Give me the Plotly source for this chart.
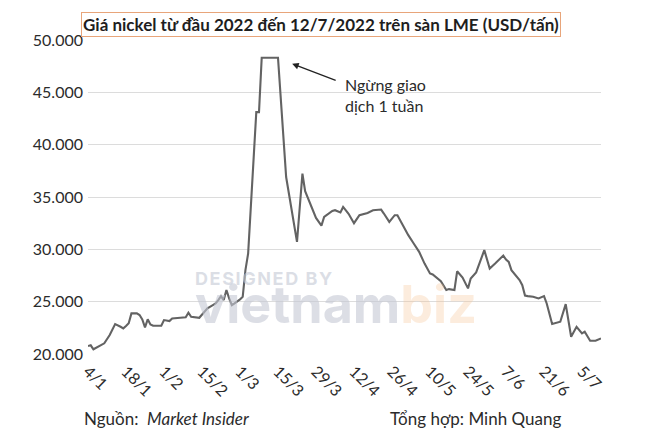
import plotly.graph_objects as go

# ---- data ----
dates = [
    "2022-01-04", "2022-01-05", "2022-01-06", "2022-01-08", "2022-01-10", "2022-01-12",
    "2022-01-14", "2022-01-16", "2022-01-17", "2022-01-18", "2022-01-19", "2022-01-20",
    "2022-01-22", "2022-01-23", "2022-01-24", "2022-01-25", "2022-01-26", "2022-01-27",
    "2022-01-28", "2022-01-31", "2022-02-01", "2022-02-03", "2022-02-04", "2022-02-07",
    "2022-02-09", "2022-02-10", "2022-02-11", "2022-02-14", "2022-02-15", "2022-02-17",
    "2022-02-19", "2022-02-20", "2022-02-21", "2022-02-22", "2022-02-23", "2022-02-24",
    "2022-02-25", "2022-02-26", "2022-02-27", "2022-02-28", "2022-03-01", "2022-03-02",
    "2022-03-03", "2022-03-04", "2022-03-07", "2022-03-08", "2022-03-09", "2022-03-15",
    "2022-03-18", "2022-03-22", "2022-03-24", "2022-03-25", "2022-03-27", "2022-03-29",
    "2022-03-31", "2022-04-01", "2022-04-04", "2022-04-05", "2022-04-07", "2022-04-08",
    "2022-04-10", "2022-04-12", "2022-04-14", "2022-04-17", "2022-04-19", "2022-04-22",
    "2022-04-23", "2022-04-25", "2022-04-27", "2022-04-28", "2022-04-30", "2022-05-02",
    "2022-05-04", "2022-05-05", "2022-05-06", "2022-05-08", "2022-05-10", "2022-05-11",
    "2022-05-14", "2022-05-16", "2022-05-17", "2022-05-19", "2022-05-20", "2022-05-22",
    "2022-05-24", "2022-05-25", "2022-05-27", "2022-05-30", "2022-06-01", "2022-06-03",
    "2022-06-06", "2022-06-07", "2022-06-08", "2022-06-09", "2022-06-12", "2022-06-13",
    "2022-06-14", "2022-06-15", "2022-06-17", "2022-06-19", "2022-06-21", "2022-06-22",
    "2022-06-24", "2022-06-27", "2022-06-29", "2022-07-01", "2022-07-03", "2022-07-05",
    "2022-07-06", "2022-07-08", "2022-07-10", "2022-07-12",
]
prices = [
    20760, 20830, 20450, 20750, 21020, 21810,
    22860, 22600, 22450, 22670, 22930, 23880,
    23880, 23720, 23310, 22550, 23310, 22830,
    22700, 22700, 23240, 23150, 23400, 23460,
    23500, 23940, 23560, 23460, 23790, 24360,
    24670, 24830, 25150, 25530, 25150, 26110,
    25310, 24670, 24830, 24990, 25210, 25470,
    28010, 29600, 43110, 43110, 48300, 48300,
    36910, 30710, 37230, 35550, 34300, 33000,
    32260, 33100, 33670, 33740, 33520, 34050,
    33400, 32500, 33260, 33480, 33740, 33800,
    33420, 32620, 33260, 33260, 32310, 31350,
    30560, 30200, 29760, 28640, 27700, 27600,
    26950, 26110, 26200, 26110, 27900, 27300,
    26270, 27210, 27800, 29920, 28160, 28640,
    29400, 29030, 28800, 28010, 27060, 26580,
    25580, 25530, 25470, 25310, 25530, 24830,
    22860, 23080, 24770, 21650, 22600, 21970,
    22130, 21270, 21270, 21490,
]

tick_dates = [
    "2022-01-04", "2022-01-18", "2022-02-01", "2022-02-15", "2022-03-01", "2022-03-15",
    "2022-03-29", "2022-04-12", "2022-04-26", "2022-05-10", "2022-05-24", "2022-06-07",
    "2022-06-21", "2022-07-05",
]
tick_labels = ["4/1", "18/1", "1/2", "15/2", "1/3", "15/3", "29/3", "12/4",
               "26/4", "10/5", "24/5", "7/6", "21/6", "5/7"]

title_text = "Giá nickel từ đầu 2022 đến 12/7/2022 trên sàn LME (USD/tấn)"
note_text = "Ngừng giao<br>dịch 1 tuần"
source_text = "Nguồn:  <i>Market Insider</i>"
author_text = "Tổng hợp: Minh Quang"
watermark_text = ("<span style='font-size:18px;letter-spacing:1.6px'><b>DESIGNED BY</b></span><br>"
                  "<span style='font-size:52px'><b>vietnam</b>"
                  "<span style='color:rgba(246,196,152,0.55)'><b>biz</b></span></span>")

FONT = "Lato, 'Open Sans', sans-serif"
TXT = "#2b2b2b"

fig = go.Figure()
fig.add_trace(go.Scatter(
    x=dates, y=prices, mode="lines",
    line=dict(color="#636363", width=2.1),
    hoverinfo="skip", showlegend=False,
))

fig.update_layout(
    width=656, height=427,
    margin=dict(l=80, r=63, t=32, b=81),
    paper_bgcolor="white", plot_bgcolor="white",
    separators=",.",
    font=dict(family=FONT, color=TXT, size=15),
    xaxis=dict(
        type="date",
        range=["2022-01-04", "2022-07-12"],
        tickmode="array", tickvals=tick_dates, ticktext=tick_labels,
        tickangle=45, showgrid=False, zeroline=False, showline=False,
        ticks="", tickfont=dict(size=16, color=TXT),
        ticklabelstandoff=4,
    ),
    yaxis=dict(
        range=[20000, 50000], dtick=5000, tick0=20000,
        tickformat=",.0f", showgrid=True, gridcolor="#dcdcdc", gridwidth=1,
        zeroline=False, showline=False, ticks="",
        tickfont=dict(size=16, color=TXT),
        ticklabelstandoff=4,
    ),
    shapes=[
        dict(type="rect", xref="paper", yref="paper", x0=0.0, x1=0.925,
             y0=0.985, y1=1.1, fillcolor="white", line=dict(width=0), layer="above"),
    ],
    annotations=[
        # watermark (single text block)
        dict(text=watermark_text, xref="paper", yref="paper", x=0.205, y=0.165,
             xanchor="left", yanchor="middle", align="left", showarrow=False,
             font=dict(family="Inter, sans-serif", size=29, color="rgba(196,200,212,0.6)")),
        # title box
        dict(text="<b>" + title_text + "</b>", xref="paper", yref="paper",
             x=0.455, y=1.05, xanchor="center", yanchor="middle", showarrow=False,
             font=dict(size=17, color="#1e1e1e"), bgcolor="white",
             bordercolor="#e8a57a", borderwidth=1, borderpad=1),
        # arrow
        dict(text="", xref="paper", yref="paper", x=0.398, y=0.924,
             ax=45, ay=17, axref="pixel", ayref="pixel",
             showarrow=True, arrowhead=2, arrowsize=1, arrowwidth=1.3,
             arrowcolor="#222222"),
        dict(text=note_text, xref="paper", yref="paper", x=0.497, y=0.825,
             xanchor="left", yanchor="middle", align="left", showarrow=False,
             font=dict(size=16, color=TXT)),
        # footer
        dict(text=source_text, xref="paper", yref="paper", x=-0.012, y=-0.204,
             xanchor="left", yanchor="middle", showarrow=False,
             font=dict(size=17, color=TXT)),
        dict(text=author_text, xref="paper", yref="paper", x=0.585, y=-0.204,
             xanchor="left", yanchor="middle", showarrow=False,
             font=dict(size=17, color=TXT)),
    ],
)

fig.write_html("out.html")
